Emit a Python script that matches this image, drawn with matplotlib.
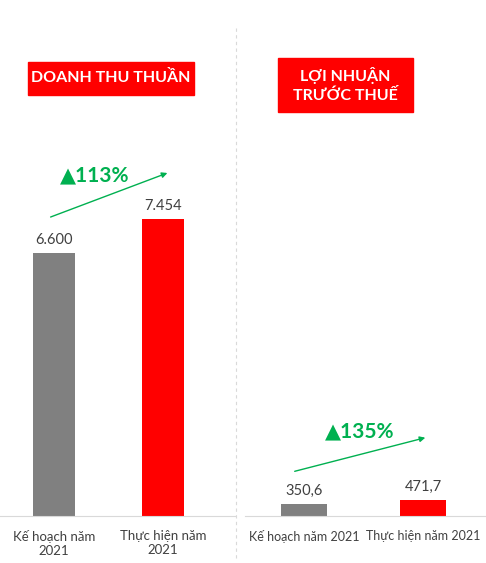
import matplotlib
matplotlib.use("Agg")
import matplotlib.pyplot as plt
from matplotlib.patches import Rectangle, FancyArrowPatch

plt.rcParams['font.family'] = ['Lato', 'DejaVu Sans']

rev_labels = ["Kế hoạch năm\n2021", "Thực hiện năm\n2021"]
rev_values = [6600, 7454]
rev_text = ["6.600", "7.454"]
pbt_labels = ["Kế hoạch năm 2021", "Thực hiện năm 2021"]
pbt_values = [350.6, 471.7]
pbt_text = ["350,6", "471,7"]
colors = ["#808080", "#FF0000"]

W, H = 486, 563
fig = plt.figure(figsize=(W/100, H/100), dpi=100)

def fx(x): return x / W
def fy(y): return 1 - y / H

base = 516
axL = fig.add_axes([0, fy(base), 235/W, base/H])
axR = fig.add_axes([245/W, fy(base), 241/W, base/H])

for ax, vals, labs, txt, xl, yl, fs in [
    (axL, rev_values, rev_labels, rev_text, (-0.495, 1.66), 12950, 9.5),
    (axR, pbt_values, pbt_labels, pbt_text, (-0.496, 1.53), 15212, 9)]:
    x = list(range(len(vals)))
    ax.bar(x, vals, width=0.39, color=colors)
    ax.set_xlim(*xl)
    ax.set_ylim(0, yl)
    for xi, v, t in zip(x, vals, txt):
        ax.text(xi, v + yl*0.012, t, ha='center', va='bottom', fontsize=10.5, color='#404040')
    for s in ax.spines.values():
        s.set_visible(False)
    ax.spines['bottom'].set_visible(True)
    ax.spines['bottom'].set_color('#d9d9d9')
    ax.set_yticks([])
    ax.set_xticks(x)
    ax.set_xticklabels(labs, fontsize=fs, color='#404040')
    ax.tick_params(axis='x', length=0, pad=10)
    ax.patch.set_alpha(0)

fig.add_artist(plt.Line2D([fx(236), fx(236)], [fy(28), fy(560)], color='#d9d9d9', lw=0.8, ls=(0, (3, 3))))

fig.add_artist(Rectangle((fx(28), fy(95)), 166/W, 33/H, color='#FF0000', transform=fig.transFigure))
fig.text(fx(111), fy(78), "DOANH THU THUẦN", color='white', fontsize=11.5, fontweight='bold', ha='center', va='center')
fig.add_artist(Rectangle((fx(278), fy(112)), 135/W, 54/H, color='#FF0000', transform=fig.transFigure))
fig.text(fx(345.5), fy(85), "LỢI NHUẬN\nTRƯỚC THUẾ", color='white', fontsize=11.5, fontweight='bold', ha='center', va='center', linespacing=1.4)

green = '#00B050'
for (x0, y0, x1, y1) in [(48, 218, 170, 172), (292, 472, 428, 437)]:
    fig.add_artist(FancyArrowPatch((fx(x0), fy(y0)), (fx(x1), fy(y1)), transform=fig.transFigure,
                                   arrowstyle='-|>', mutation_scale=8, color=green, lw=1))
fig.text(fx(95), fy(175), "▲113%", color=green, fontsize=15, fontweight='bold', ha='center', va='center')
fig.text(fx(360), fy(431), "▲135%", color=green, fontsize=15, fontweight='bold', ha='center', va='center')

fig.savefig("out.png", dpi=100, facecolor='white')
